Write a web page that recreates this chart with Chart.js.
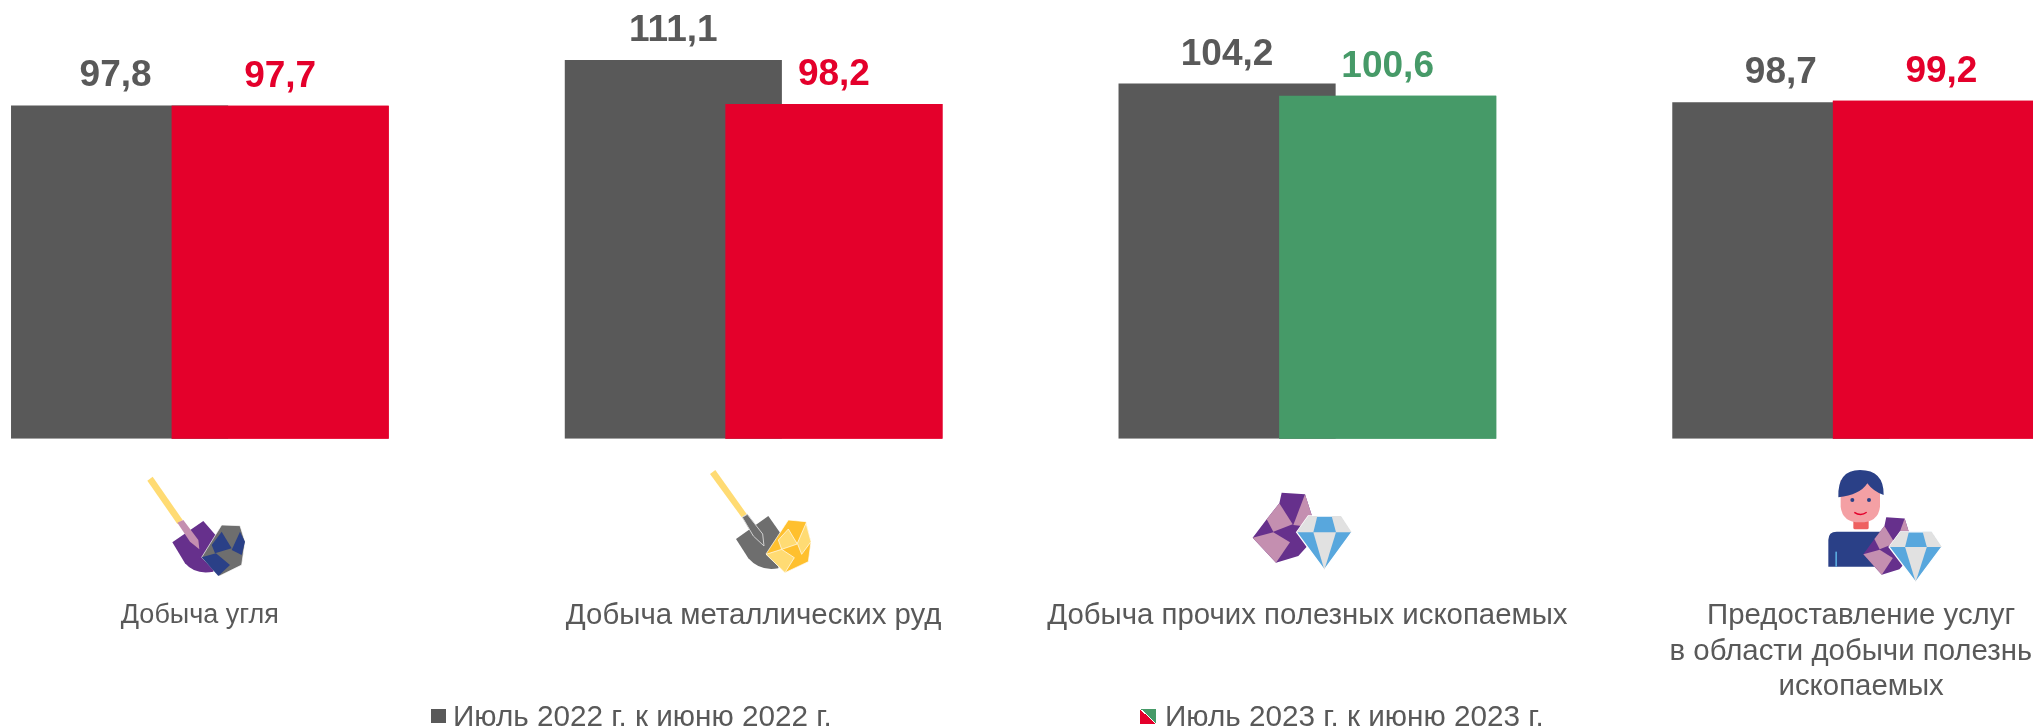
<!DOCTYPE html>
<html lang="ru">
<head>
<meta charset="utf-8">
<title>Индексы производства</title>
<script src="https://cdn.jsdelivr.net/npm/chart.js@4"></script>
<style>
  html, body { margin: 0; padding: 0; background: #fff; overflow: hidden; width: 2033px; height: 728px; }
  body { position: relative; font-family: "Liberation Sans", Arial, sans-serif; color: #595959; }
  #chart { position: absolute; left: -77px; top: 0; }
  .icon { position: absolute; }
  .legend { position: absolute; top: 698px; font-size: 29.7px; line-height: 36px; white-space: nowrap; }
  .legend i { position: absolute; top: 11px; }
</style>
</head>
<body>
<canvas id="chart" width="2215" height="728"></canvas>

<!-- подписи легенды -->
<div class="legend" style="left:453px"><i style="left:-22px;width:15px;height:14px;background:#595959"></i>Июль 2022 г. к июню 2022 г.</div>
<div class="legend" style="left:1165px"><i style="left:-25px;width:16px;height:15px;background:linear-gradient(to top right,#E4002B 49%,#fff 49%,#fff 53%,#469A68 53%)"></i>Июль 2023 г. к июню 2023 г.</div>

<!-- иконки -->
<svg width="0" height="0" style="position:absolute">
  <defs>
    <g id="stone">
      <polygon fill="#66308C" points="125,68 195,73 215,135 205,225 175,258 108,278 38,203 80,148 118,100"/>
      <polygon fill="#C48FB0" points="118,100 158,163 100,185 80,148"/>
      <polygon fill="#C48FB0" points="195,73 215,135 205,170 160,165"/>
      <polygon fill="#C48FB0" points="38,203 100,187 150,217 108,278"/>
    </g>
    <g id="diamond">
      <polygon fill="#58A7DD" stroke="#fff" stroke-width="4" points="205,138 303,138 335,187 253,300 170,187"/>
      <polygon fill="#E1E1E1" points="205,138 232,138 220,187 170,187"/>
      <polygon fill="#E1E1E1" points="275,138 303,138 335,187 288,187"/>
      <polygon fill="#E1E1E1" points="220,187 288,187 253,300"/>
    </g>
  </defs>
</svg>
<svg class="icon" style="left:130px;top:460px" width="130" height="130" viewBox="0 0 390 390">
  <path fill="#66308C" d="M127,247 L220,183 L265,235 L250,335 Q195,345 165,310 Z"/>
  <polygon fill="#FFDB73" points="52,62 68,50 158,180 142,192"/>
  <polygon fill="#C48FB0" points="142,188 160,180 205,240 208,268 180,245"/>
  <polygon fill="#6E6E6E" stroke="#fff" stroke-width="2" points="215,292 275,195 330,197 345,245 335,315 268,348"/>
  <polygon fill="#2A4087" points="245,255 275,215 305,265 255,280"/>
  <polygon fill="#2A4087" points="215,292 258,280 300,315 265,348"/>
  <polygon fill="#2A4087" points="305,270 330,215 345,245 335,285"/>
</svg>
<svg class="icon" style="left:700px;top:460px" width="130" height="130" viewBox="0 0 390 390">
  <path fill="#6E6E6E" d="M108,237 L205,168 L245,225 L235,325 Q180,335 145,295 Z"/>
  <polygon fill="#FFDB73" points="30,42 46,30 140,162 125,172"/>
  <polygon fill="#6E6E6E" stroke="#D0D0D0" stroke-width="3" points="127,172 142,163 188,222 192,258 160,228"/>
  <polygon fill="#FFC02E" stroke="#fff" stroke-width="2" points="198,282 265,180 318,185 333,245 325,305 255,338"/>
  <polygon fill="#FFDB73" stroke="#fff" stroke-width="2" points="198,283 245,268 283,293 255,338"/>
  <polygon fill="#FFDB73" stroke="#fff" stroke-width="2" points="235,240 265,207 292,252 245,268"/>
  <polygon fill="#FFDB73" stroke="#fff" stroke-width="2" points="292,250 318,190 333,245 305,283"/>
</svg>
<svg class="icon" style="left:1240px;top:470px" width="130" height="110" viewBox="0 0 390 330">
  <use href="#stone"/>
  <use href="#diamond"/>
</svg>
<svg class="icon" style="left:1810px;top:460px" width="160" height="130" viewBox="0 0 480 390">
  <path fill="#2A4087" d="M55,320 L55,240 Q55,215 80,215 L230,215 L230,320 Z"/>
  <rect x="76" y="275" width="5" height="45" fill="#58A7DD"/>
  <rect x="130" y="180" width="46" height="28" rx="5" fill="#EE6060"/>
  <path fill="#F4A0A4" d="M92,60 L210,60 L210,140 Q205,187 150,187 Q97,187 92,140 Z"/>
  <path fill="#2A4087" d="M85,112 Q82,30 150,30 Q222,30 221,105 Q190,95 172,70 Q150,105 85,112 Z"/>
  <circle cx="127" cy="120" r="6" fill="#2A4087"/>
  <circle cx="177" cy="120" r="6" fill="#2A4087"/>
  <path d="M133,157 Q152,170 170,157" fill="none" stroke="#E4002B" stroke-width="4"/>
  <use href="#stone" transform="translate(130,116) scale(.79,.82)"/>
  <use href="#diamond" transform="translate(74,87) scale(.96,.93)"/>
</svg>

<script>
// Данные диаграммы
const categories = [
    'Добыча угля',
    'Добыча металлических руд',
    'Добыча прочих полезных ископаемых',
    ['Предоставление услуг', 'в области добычи полезных', 'ископаемых']
];
const values2022 = [97.8, 111.1, 104.2, 98.7];
const values2023 = [97.7, 98.2, 100.6, 99.2];
const colors2023 = ['#E4002B', '#E4002B', '#469A68', '#E4002B'];
const GRAY = '#595959';

// Столбцы 2023 поверх столбцов 2022 и подписи значений
const barLabels = {
    id: 'barLabels',
    afterDatasetDraw(chart, args) {
        if (args.index === 0) {
            chart.getDatasetMeta(1).data.forEach(function(bar) { bar.draw(chart.ctx); });
        }
    },
    afterDatasetsDraw(chart) {
        const ctx = chart.ctx;
        ctx.save();
        ctx.font = 'bold 37px "Liberation Sans"';
        ctx.textAlign = 'center';
        ctx.textBaseline = 'alphabetic';
        chart.data.datasets.forEach(function(ds, i) {
            chart.getDatasetMeta(i).data.forEach(function(bar, j) {
                ctx.fillStyle = i === 0 ? GRAY : colors2023[j];
                // первая подпись в оригинале чуть левее центра столбца
                const x = (i === 0 && j === 0) ? bar.x - 4 : bar.x;
                ctx.fillText(ds.data[j].toFixed(1).replace('.', ','), x, bar.y - 19);
            });
        });
        ctx.restore();
    }
};

new Chart(document.getElementById('chart'), {
    type: 'bar',
    data: {
        labels: categories,
        datasets: [
            { label: 'Июль 2022 г. к июню 2022 г.', data: values2022, backgroundColor: GRAY },
            { label: 'Июль 2023 г. к июню 2023 г.', data: values2023, backgroundColor: colors2023 }
        ]
    },
    options: {
        responsive: false,
        animation: false,
        layout: { padding: { top: 2.5 } },
        categoryPercentage: 0.58,
        barPercentage: 1.352,
        plugins: { legend: { display: false }, tooltip: { enabled: false } },
        scales: {
            x: {
                grid: { display: false, drawTicks: false },
                border: { display: false },
                // подписи не должны сжимать область графика
                afterFit(scale) {
                    scale.height = 289.3;
                    scale.paddingLeft = 0;
                    scale.paddingRight = 0;
                },
                ticks: {
                    autoSkip: false,
                    maxRotation: 0,
                    padding: 159.5,
                    color: GRAY,
                    font: function(ctx) {
                        return { family: '"Liberation Sans"', size: ctx.index === 0 ? 27 : 29.4, lineHeight: '35.6px' };
                    }
                }
            },
            y: { display: false, min: 0, max: 128 }
        }
    },
    plugins: [barLabels]
});
</script>
</body>
</html>
